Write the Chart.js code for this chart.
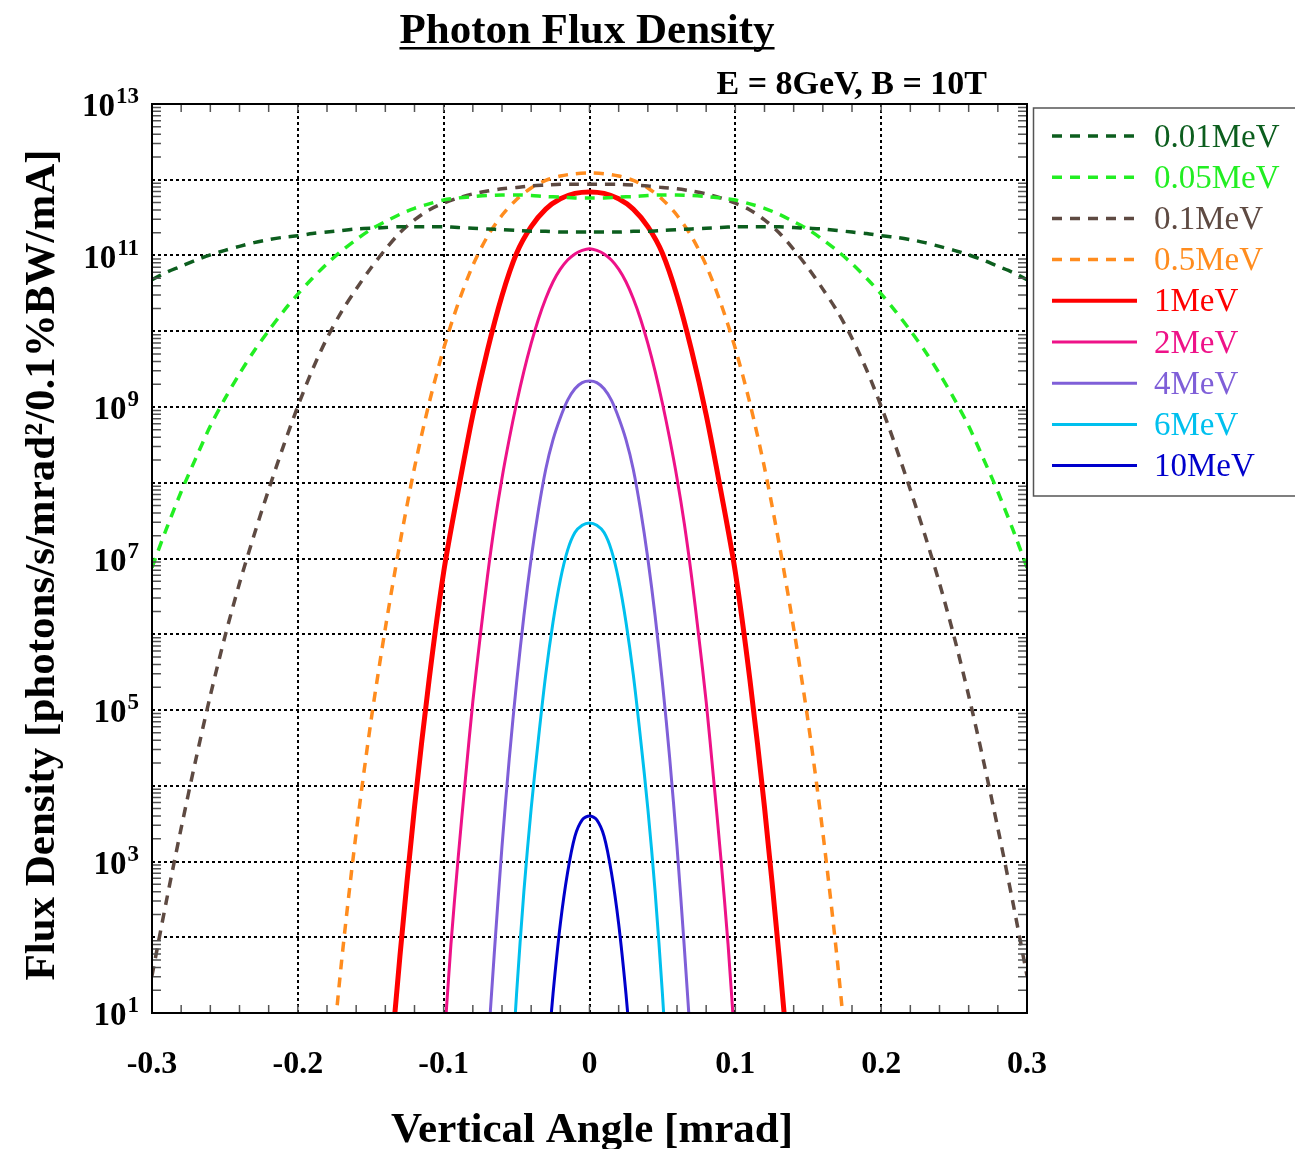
<!DOCTYPE html>
<html>
<head>
<meta charset="utf-8">
<title>Photon Flux Density</title>
<script src="https://cdn.jsdelivr.net/npm/chart.js@4.4.1/dist/chart.umd.min.js"></script>
<style>
  html, body { margin: 0; padding: 0; background: #fff; }
  canvas { display: block; }
</style>
</head>
<body>
<canvas id="flux" width="1295" height="1149"></canvas>
<script>
// vertical angle [mrad] sampled for each curve
var angleWide = [-0.30,-0.29,-0.28,-0.27,-0.26,-0.25,-0.24,-0.23,-0.22,-0.21,-0.20,-0.19,-0.18,-0.17,-0.16,-0.15,-0.14,-0.13,-0.12,-0.11,-0.10,-0.09,-0.08,-0.07,-0.06,-0.05,-0.04,-0.03,-0.02,-0.01,0,
  0.01,0.02,0.03,0.04,0.05,0.06,0.07,0.08,0.09,0.10,0.11,0.12,0.13,0.14,0.15,0.16,0.17,0.18,0.19,0.20,0.21,0.22,0.23,0.24,0.25,0.26,0.27,0.28,0.29,0.30];
var angle05 = [-0.18,-0.17,-0.16,-0.15,-0.14,-0.13,-0.12,-0.11,-0.10,-0.09,-0.08,-0.07,-0.06,-0.05,-0.04,-0.03,-0.02,-0.01,0,
  0.01,0.02,0.03,0.04,0.05,0.06,0.07,0.08,0.09,0.10,0.11,0.12,0.13,0.14,0.15,0.16,0.17,0.18];
var angle1 = [-0.14,-0.13,-0.12,-0.11,-0.10,-0.09,-0.08,-0.07,-0.06,-0.05,-0.04,-0.03,-0.02,-0.01,0,
  0.01,0.02,0.03,0.04,0.05,0.06,0.07,0.08,0.09,0.10,0.11,0.12,0.13,0.14];
var angle2 = [-0.100,-0.095,-0.090,-0.085,-0.080,-0.075,-0.070,-0.065,-0.060,-0.055,-0.050,-0.045,-0.040,-0.035,-0.030,-0.025,-0.020,-0.015,-0.010,-0.005,0,
  0.005,0.010,0.015,0.020,0.025,0.030,0.035,0.040,0.045,0.050,0.055,0.060,0.065,0.070,0.075,0.080,0.085,0.090,0.095,0.100];
var angle4 = [-0.070,-0.065,-0.060,-0.055,-0.050,-0.045,-0.040,-0.035,-0.030,-0.025,-0.020,-0.015,-0.010,-0.005,0,
  0.005,0.010,0.015,0.020,0.025,0.030,0.035,0.040,0.045,0.050,0.055,0.060,0.065,0.070];
var angle6 = [-0.055,-0.050,-0.045,-0.040,-0.035,-0.030,-0.025,-0.020,-0.015,-0.010,-0.005,0,
  0.005,0.010,0.015,0.020,0.025,0.030,0.035,0.040,0.045,0.050,0.055];
var angle10 = [-0.030,-0.025,-0.020,-0.015,-0.010,-0.005,0,0.005,0.010,0.015,0.020,0.025,0.030];

// flux density [photons/s/mrad^2/0.1%BW/mA]
var flux001 = [4.8e10,6.0e10,7.2e10,8.7e10,1.02e11,1.17e11,1.32e11,1.48e11,1.62e11,1.74e11,1.82e11,1.95e11,2.04e11,2.14e11,2.24e11,2.29e11,2.34e11,2.40e11,2.40e11,2.40e11,2.40e11,2.34e11,2.29e11,2.24e11,2.19e11,2.14e11,2.09e11,2.09e11,2.04e11,2.04e11,2.04e11,
  2.04e11,2.04e11,2.09e11,2.09e11,2.14e11,2.19e11,2.24e11,2.29e11,2.34e11,2.40e11,2.40e11,2.40e11,2.40e11,2.34e11,2.29e11,2.24e11,2.14e11,2.04e11,1.95e11,1.82e11,1.74e11,1.62e11,1.48e11,1.32e11,1.17e11,1.02e11,8.7e10,7.2e10,6.0e10,4.8e10];
var flux005 = [7.6e6,2.5e7,7.6e7,2.1e8,5.6e8,1.29e9,2.75e9,5.5e9,1.02e10,1.82e10,3.1e10,5.0e10,7.8e10,1.15e11,1.62e11,2.2e11,2.8e11,3.5e11,4.2e11,4.8e11,5.4e11,5.75e11,6.0e11,6.2e11,6.3e11,6.3e11,6.2e11,6.0e11,5.9e11,5.75e11,5.75e11,
  5.75e11,5.9e11,6.0e11,6.2e11,6.3e11,6.3e11,6.2e11,6.0e11,5.75e11,5.4e11,4.8e11,4.2e11,3.5e11,2.8e11,2.2e11,1.62e11,1.15e11,7.8e10,5.0e10,3.1e10,1.82e10,1.02e10,5.5e9,2.75e9,1.29e9,5.6e8,2.1e8,7.6e7,2.5e7,7.6e6];
var flux01 = [31,310,2.75e3,2.2e4,1.55e5,9.3e5,4.7e6,2.04e7,8.1e7,3.0e8,1.02e9,3.1e9,8.1e9,1.82e10,3.6e10,6.8e10,1.2e11,2.0e11,2.95e11,4.0e11,4.9e11,5.75e11,6.5e11,7.1e11,7.6e11,7.9e11,8.3e11,8.5e11,8.7e11,8.7e11,8.7e11,
  8.7e11,8.7e11,8.5e11,8.3e11,7.9e11,7.6e11,7.1e11,6.5e11,5.75e11,4.9e11,4.0e11,2.95e11,2.0e11,1.2e11,6.8e10,3.6e10,1.82e10,8.1e9,3.1e9,1.02e9,3.0e8,8.1e7,2.04e7,4.7e6,9.3e5,1.55e5,2.2e4,2.75e3,310,31];
var flux05 = [0.48,48,2.4e3,6.8e4,1.2e6,1.58e7,1.58e8,1.12e9,5.9e9,2.35e10,7.4e10,1.78e11,3.4e11,5.5e11,7.8e11,9.8e11,1.12e12,1.2e12,1.23e12,
  1.2e12,1.12e12,9.8e11,7.8e11,5.5e11,3.4e11,1.78e11,7.4e10,2.35e10,5.9e9,1.12e9,1.58e8,1.58e7,1.2e6,6.8e4,2.4e3,48,0.48];
var flux1 = [0.35,56,5.2e3,2.5e5,6.6e6,7.9e7,7.9e8,5.6e9,2.95e10,1.07e11,2.4e11,4.1e11,5.6e11,6.6e11,6.9e11,
  6.6e11,5.6e11,4.1e11,2.4e11,1.07e11,2.95e10,5.6e9,7.9e8,7.9e7,6.6e6,2.5e5,5.2e3,56,0.35];
var flux2 = [3.2,81,1.15e3,1.29e4,1.29e5,9.1e5,5.75e6,2.9e7,1.15e8,3.8e8,1.12e9,2.95e9,6.9e9,1.45e10,2.7e10,4.5e10,6.6e10,8.7e10,1.05e11,1.17e11,1.23e11,
  1.17e11,1.05e11,8.7e10,6.6e10,4.5e10,2.7e10,1.45e10,6.9e9,2.95e9,1.12e9,3.8e8,1.15e8,2.9e7,5.75e6,9.1e5,1.29e5,1.29e4,1.15e3,81,3.2];
var flux4 = [2.8,74,1.58e3,2.3e4,2.3e5,1.74e6,1.0e7,4.4e7,1.51e8,3.7e8,7.2e8,1.23e9,1.74e9,2.1e9,2.2e9,
  2.1e9,1.74e9,1.23e9,7.2e8,3.7e8,1.51e8,4.4e7,1.0e7,1.74e6,2.3e5,2.3e4,1.58e3,74,2.8];
var flux6 = [0.5,18,400,5.0e3,4.2e4,2.95e5,1.45e6,5.2e6,1.29e7,2.2e7,2.75e7,2.95e7,
  2.75e7,2.2e7,1.29e7,5.2e6,1.45e6,2.95e5,4.2e4,5.0e3,400,18,0.5];
var flux10 = [1.4,18,150,720,2.15e3,3.55e3,4.0e3,3.55e3,2.15e3,720,150,18,1.4];

var energyLabels = ['0.01MeV','0.05MeV','0.1MeV','0.5MeV','1MeV','2MeV','4MeV','6MeV','10MeV'];
var xTickValues = [-0.3,-0.2,-0.1,0,0.1,0.2,0.3];
var xTickLabels = ['-0.3','-0.2','-0.1','0','0.1','0.2','0.3'];
var yDecades = [1,2,3,4,5,6,7,8,9,10,11,12,13];
var yLabelExponents = [13,11,9,7,5,3,1];

// line styles, same order as energyLabels
var lineColors = ['#0c5e1e','#22ee22','#5e4a42','#ff8c1e','#ff0000','#ee1288','#7f5fd8','#00c0ee','#0000cc'];
var lineWidths = [3.5,3.5,3.5,3.5,5,3,3,3,3];
var dashed = [true,true,true,true,false,false,false,false,false];

var SERIF = "'Liberation Serif', 'Times New Roman', serif";

var curves = [
  [angleWide, flux001], [angleWide, flux005], [angleWide, flux01], [angle05, flux05],
  [angle1, flux1], [angle2, flux2], [angle4, flux4], [angle6, flux6], [angle10, flux10]
];

var datasets = curves.map(function(c, i) {
  return {
    label: energyLabels[i],
    data: c[0].map(function(a, j) { return { x: a, y: c[1][j] }; }),
    borderColor: lineColors[i],
    backgroundColor: lineColors[i],
    borderWidth: lineWidths[i],
    borderDash: dashed[i] ? [10, 8] : [],
    pointRadius: 0,
    fill: false,
    tension: 0.3,
    clip: 0
  };
});

var decorations = {
  id: 'decorations',
  afterDraw: function(chart) {
    var ctx = chart.ctx, a = chart.chartArea;
    var xs = chart.scales.x, ys = chart.scales.y;
    ctx.save();

    // minor ticks
    ctx.strokeStyle = '#555';
    ctx.lineWidth = 1.5;
    ctx.beginPath();
    yDecades.forEach(function(d) {
      if (d >= 13) return;
      for (var m = 2; m < 10; m++) {
        var py = ys.getPixelForValue(m * Math.pow(10, d));
        ctx.moveTo(a.left, py); ctx.lineTo(a.left + 9, py);
        ctx.moveTo(a.right, py); ctx.lineTo(a.right - 9, py);
      }
    });
    for (var k = -15; k <= 15; k++) {
      var px = xs.getPixelForValue(k * 0.02);
      ctx.moveTo(px, a.bottom); ctx.lineTo(px, a.bottom - 8);
      ctx.moveTo(px, a.top); ctx.lineTo(px, a.top + 8);
    }
    ctx.stroke();

    // frame
    ctx.strokeStyle = '#000';
    ctx.lineWidth = 2;
    ctx.strokeRect(a.left, a.top, a.right - a.left, a.bottom - a.top);

    ctx.fillStyle = '#000';
    // x tick labels
    ctx.font = 'bold 32px ' + SERIF;
    ctx.textAlign = 'center';
    ctx.textBaseline = 'alphabetic';
    xTickValues.forEach(function(v, i) {
      ctx.fillText(xTickLabels[i], xs.getPixelForValue(v), a.bottom + 60);
    });

    // y tick labels 10^n
    yLabelExponents.forEach(function(e) {
      var py = ys.getPixelForValue(Math.pow(10, e));
      ctx.font = 'bold 33px ' + SERIF;
      var wBase = ctx.measureText('10').width;
      ctx.font = 'bold 23px ' + SERIF;
      var wExp = ctx.measureText(String(e)).width;
      var x0 = 139 - wBase - wExp - 1;
      ctx.textAlign = 'left';
      ctx.font = 'bold 33px ' + SERIF;
      ctx.fillText('10', x0, py + 12);
      ctx.font = 'bold 23px ' + SERIF;
      ctx.fillText(String(e), x0 + wBase + 1, py - 1);
    });

    // titles
    ctx.textAlign = 'center';
    ctx.font = 'bold 43px ' + SERIF;
    var title = 'Photon Flux Density';
    var tw = ctx.measureText(title).width;
    ctx.fillText(title, 587, 43);
    ctx.fillRect(587 - tw / 2, 47, tw, 2.5);

    ctx.textAlign = 'right';
    ctx.font = 'bold 34px ' + SERIF;
    ctx.fillText('E = 8GeV, B = 10T', 987, 94);

    ctx.textAlign = 'center';
    ctx.font = 'bold 43px ' + SERIF;
    ctx.fillText('Vertical Angle [mrad]', 592, 1142);

    ctx.save();
    ctx.translate(54, 565);
    ctx.rotate(-Math.PI / 2);
    ctx.fillText('Flux Density [photons/s/mrad\u00b2/0.1%BW/mA]', 0, 0);
    ctx.restore();

    // legend
    ctx.strokeStyle = '#555';
    ctx.lineWidth = 1.5;
    ctx.strokeRect(1033.5, 108, 300, 388);
    ctx.textAlign = 'left';
    ctx.textBaseline = 'middle';
    ctx.font = '33px ' + SERIF;
    chart.data.datasets.forEach(function(ds, i) {
      var ly = 136 + i * 41.2;
      ctx.strokeStyle = ds.borderColor;
      ctx.lineWidth = Math.min(ds.borderWidth, 4);
      ctx.setLineDash(ds.borderDash);
      ctx.beginPath();
      ctx.moveTo(1052, ly);
      ctx.lineTo(1137, ly);
      ctx.stroke();
      ctx.setLineDash([]);
      ctx.fillStyle = ds.borderColor;
      ctx.fillText(ds.label, 1154, ly + 2);
    });

    ctx.restore();
  }
};

new Chart(document.getElementById('flux'), {
  type: 'line',
  data: { datasets: datasets },
  options: {
    responsive: false,
    animation: false,
    devicePixelRatio: 1,
    layout: { padding: { left: 152, right: 268, top: 104, bottom: 136 } },
    plugins: { legend: { display: false }, tooltip: { enabled: false } },
    scales: {
      x: {
        type: 'linear',
        min: -0.3,
        max: 0.3,
        afterBuildTicks: function(s) { s.ticks = xTickValues.map(function(v) { return { value: v }; }); },
        ticks: { display: false },
        grid: { color: '#000', lineWidth: 2, drawTicks: false },
        border: { display: false, dash: [3, 3] }
      },
      y: {
        type: 'logarithmic',
        min: 10,
        max: 1e13,
        afterBuildTicks: function(s) { s.ticks = yDecades.map(function(d) { return { value: Math.pow(10, d) }; }); },
        ticks: { display: false },
        grid: { color: '#000', lineWidth: 2, drawTicks: false },
        border: { display: false, dash: [3, 3] }
      }
    }
  },
  plugins: [decorations]
});
</script>
</body>
</html>
